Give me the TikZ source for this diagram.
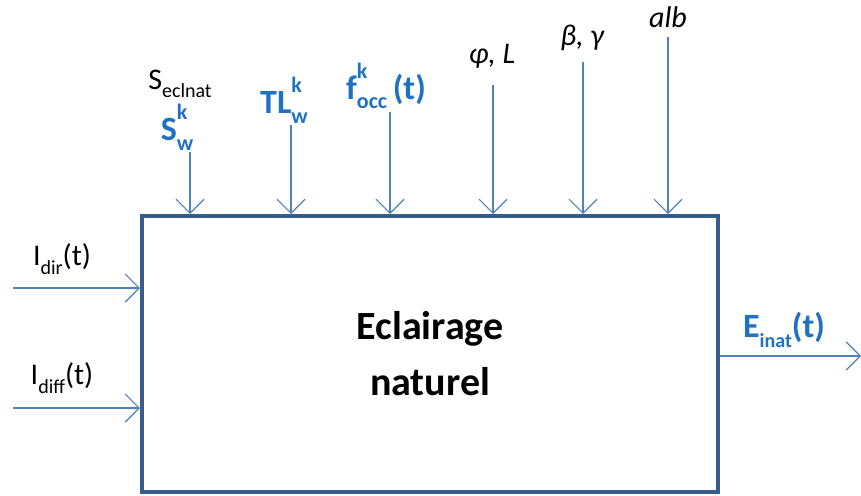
\documentclass[tikz,border=0pt]{standalone}
\usepackage{fontspec}
\setmainfont{Carlito}
\usetikzlibrary{arrows.meta}
\definecolor{boxc}{HTML}{385D8A}
\definecolor{arrc}{HTML}{4F81BD}
\definecolor{labc}{HTML}{1F72C0}
\newcommand\supsub[3]{#1\makebox[0pt][l]{\raisebox{0.62em}{\fontsize{22}{22}\selectfont #2}}\raisebox{-0.28em}{\fontsize{22}{22}\selectfont #3}}
\newcommand\lowsub[1]{\raisebox{-0.28em}{\fontsize{20}{20}\selectfont #1}}
\begin{document}
\begin{tikzpicture}[x=1pt,y=-1pt,
  conn/.style={draw=arrc,line width=1.4pt,-{Straight Barb[length=14pt,width=28pt,line width=1.2pt]}},
  blab/.style={text=labc,font=\fontsize{34}{34}\selectfont\bfseries,inner sep=0pt},
  klab/.style={text=black,font=\fontsize{30}{30}\selectfont,inner sep=0pt},
  mlab/.style={text=black,font=\fontsize{30}{30}\selectfont\itshape,inner sep=0pt}]
\useasboundingbox (0,0) rectangle (861,495);
\node[draw=boxc,line width=4pt,minimum width=576pt,minimum height=276pt,inner sep=0pt,
  font=\fontsize{40}{48}\selectfont\bfseries,align=center] (box) at (430,354) {Eclairage\\[8pt]naturel};
% top inputs
\coordinate (s1) at (190,152);
\coordinate (s2) at (291,125);
\coordinate (s3) at (390,112);
\coordinate (s4) at (493,85);
\coordinate (s5) at (583,62);
\coordinate (s6) at (668,37);
\foreach \i in {1,...,6} \draw[conn] (s\i) -- (s\i |- box.north);
\node[klab] (lse) at (180,84) {S\lowsub{eclnat}};
\node[blab] (lsw) at (177,127) {\supsub{S}{k}{w}};
\node[blab] (ltl) at (284,100) {\supsub{TL}{k}{w}};
\node[blab] (lfo) at (386,86) {\supsub{f}{k}{occ}\,(t)};
\node[mlab] (lph) at (492,56) {φ, L};
\node[mlab] (lbg) at (582,38) {β, γ};
\node[mlab] (lal) at (668,17) {alb};
% left inputs
\coordinate (i1) at (13,288);
\coordinate (i2) at (13,408);
\draw[conn] (i1) -- (i1 -| box.west);
\draw[conn] (i2) -- (i2 -| box.west);
\node[klab] (lid) at (62,259) {I\lowsub{dir}(t)};
\node[klab] (lif) at (62,378) {I\lowsub{diff}(t)};
% output
\coordinate (o1) at (861,356);
\draw[conn] (box.east |- o1) -- (o1);
\node[blab] (leo) at (784,330) {E\lowsub{\bfseries inat}(t)};
\end{tikzpicture}
\end{document}
